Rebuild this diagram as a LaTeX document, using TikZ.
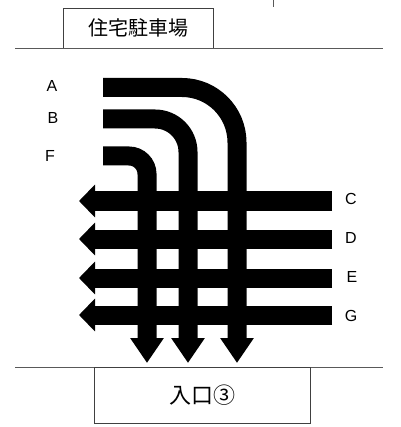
\documentclass[tikz,border=0pt]{standalone}
\usepackage{fontspec}
\setmainfont{Liberation Sans}
\newfontfamily\cjk{Noto Sans CJK JP}
\usetikzlibrary{arrows.meta}
\begin{document}
\begin{tikzpicture}[x=1pt,y=-1pt,
  flow/.style={line width=19pt, draw=black},
  downarrow/.style={flow,-{Triangle[length=25pt,width=32pt]}},
  leftarrow/.style={flow,-{Triangle[length=16pt,width=32pt]}},
  lbl/.style={font=\fontsize{16}{16}\selectfont, inner sep=0pt},
  thinrule/.style={draw=black!65, line width=0.8pt},
  boxed/.style={draw=black!75, line width=0.8pt, inner sep=0pt}]
\useasboundingbox (0,0) rectangle (400,427);
% top parking box and boundary
\node[boxed, minimum width=150pt, minimum height=40pt, font=\cjk\fontsize{20}{20}\selectfont] (park) at (138,28) {住宅駐車場};
\coordinate (tl) at (15,48);
\coordinate (tr) at (383,48);
\draw[thinrule] (tl) -- (tr);
\coordinate (tick1) at (273,0);
\coordinate (tick2) at (273,7);
\draw[thinrule] (tick1) -- (tick2);
% bottom boundary and entrance box
\coordinate (bl) at (15,367);
\coordinate (br) at (383,367);
\draw[thinrule] (bl) -- (br);
\node[boxed, minimum width=216pt, minimum height=56pt, font=\cjk\fontsize{22}{22}\selectfont] (entr) at (202,395) {入口③};
% labels
\node[lbl] (la) at (52,86) {A};
\node[lbl] (lb) at (53,118) {B};
\node[lbl] (lf) at (50,156) {F};
\node[lbl] (lc) at (351,199) {C};
\node[lbl] (ld) at (351,238) {D};
\node[lbl] (le) at (352,277) {E};
\node[lbl] (lg) at (351,316) {G};
% start / end points
\coordinate (as) at (103,87.5);
\coordinate (ae) at (237,363);
\coordinate (bs) at (103,119);
\coordinate (be) at (188,363);
\coordinate (fs) at (103,156);
\coordinate (fe) at (147,363);
\coordinate (cs) at (332,201);
\coordinate (ce) at (79,201);
\coordinate (ds) at (332,239);
\coordinate (de) at (79,239);
\coordinate (es) at (332,278);
\coordinate (ee) at (79,278);
\coordinate (gs) at (332,315);
\coordinate (ge) at (79,315);
% flows
\draw[leftarrow] (cs) -- (ce);
\draw[leftarrow] (ds) -- (de);
\draw[leftarrow] (es) -- (ee);
\draw[leftarrow] (gs) -- (ge);
\draw[downarrow, rounded corners=55pt] (as) -| (ae);
\draw[downarrow, rounded corners=33pt] (bs) -| (be);
\draw[downarrow, rounded corners=18pt] (fs) -| (fe);
\end{tikzpicture}
\end{document}
